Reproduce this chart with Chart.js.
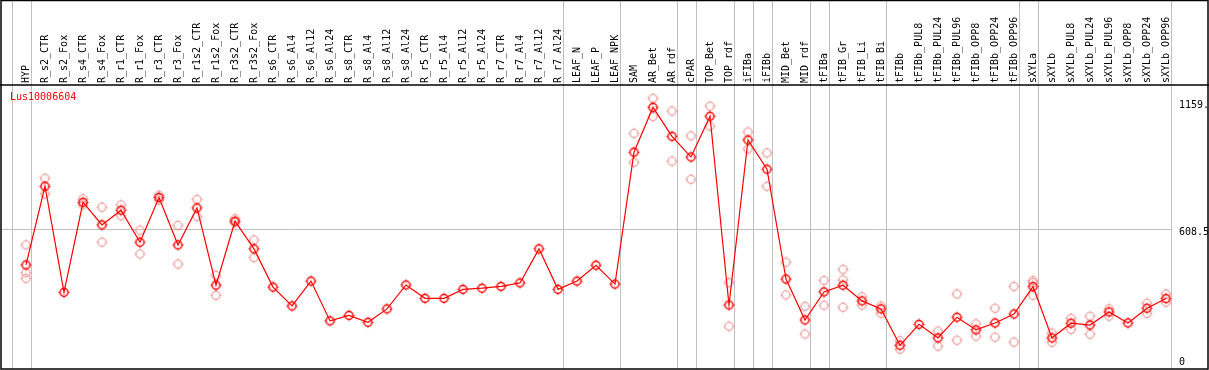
<!DOCTYPE html>
<html>
<head>
<meta charset="utf-8">
<script src="https://cdn.jsdelivr.net/npm/chart.js@4.4.1/dist/chart.umd.min.js"></script>
<style>
html,body{margin:0;padding:0;background:#fff;}
canvas{display:block;}
</style>
</head>
<body>
<canvas id="c" width="1209" height="370"></canvas>
<script>
const chartTitle = 'Lus10006604';
const categories = ['HYP','R_s2_CTR','R_s2_Fox','R_s4_CTR','R_s4_Fox','R_r1_CTR','R_r1_Fox','R_r3_CTR','R_r3_Fox','R_r1s2_CTR','R_r1s2_Fox','R_r3s2_CTR','R_r3s2_Fox','R_s6_CTR','R_s6_Al4','R_s6_Al12','R_s6_Al24','R_s8_CTR','R_s8_Al4','R_s8_Al12','R_s8_Al24','R_r5_CTR','R_r5_Al4','R_r5_Al12','R_r5_Al24','R_r7_CTR','R_r7_Al4','R_r7_Al12','R_r7_Al24','LEAF_N','LEAF_P','LEAF_NPK','SAM','AR_Bet','AR_rdf','cPAR','TOP_Bet','TOP_rdf','iFIBa','iFIBb','MID_Bet','MID_rdf','tFIBa','tFIB_Gr','tFIB_Li','tFIB_Bi','tFIBb','tFIBb_PUL8','tFIBb_PUL24','tFIBb_PUL96','tFIBb_OPP8','tFIBb_OPP24','tFIBb_OPP96','sXYLa','sXYLb','sXYLb_PUL8','sXYLb_PUL24','sXYLb_PUL96','sXYLb_OPP8','sXYLb_OPP24','sXYLb_OPP96'];
const meanValues = [452,794,333,724,626,690,551,745,539,700,364,642,522,356,274,382,209,233,203,261,365,307,307,346,351,359,374,522,346,382,451,369,942,1137,1011,921,1098,278,995,868,391,213,335,364,296,261,103,194,135,225,170,200,239,358,135,199,191,248,200,264,306];
const rep1 = [539,829,null,739,703,713,603,755,624,737,407,653,561,null,null,null,null,null,null,null,null,null,null,null,null,null,null,null,null,null,null,null,1024,1176,1121,1013,1142,375,1030,939,464,272,385,433,314,274,123,null,165,326,196,264,359,384,156,220,229,262,null,286,326];
const rep2 = [419,761,null,713,551,666,500,734,456,662,320,636,484,null,null,null,null,null,null,null,null,null,null,null,null,null,null,null,null,null,null,null,898,1097,903,824,1055,186,956,794,322,152,277,268,278,242,86,null,99,125,143,138,117,320,116,172,151,230,null,242,290];
const rep3 = [394,null,null,null,null,null,null,null,null,null,null,null,null,null,null,null,null,null,null,null,null,null,null,null,null,null,null,null,null,null,null,null,null,null,null,null,null,null,null,null,null,null,null,387,null,null,null,null,null,null,null,null,null,375,null,null,null,null,null,null,null];
const yTickValues = [0, 608.5, 1159];
const yTickLabels = ['0', '608.5', '1159.'];
const separatorsAfter = [-1, 0, 28, 31, 34, 35, 37, 38, 39, 41, 42, 45, 52, 53, 60];

const FONT = 'DejaVu Sans Mono';
const RED = '#ff0000';
const PINK = '#ee9494';

function makeMarker(color, r, lw) {
  const c = document.createElement('canvas');
  c.width = 15; c.height = 15;
  const g = c.getContext('2d');
  g.strokeStyle = color;
  g.lineWidth = lw;
  g.beginPath(); g.arc(7.5, 7.5, r, 0, Math.PI * 2); g.stroke();
  g.fillStyle = color;
  g.fillRect(7, 1.8, 1, 1);
  g.fillRect(7, 12.2, 1, 1);
  g.fillRect(1.8, 7, 1, 1);
  g.fillRect(12.2, 7, 1, 1);
  return c;
}
const mainMarker = makeMarker(RED, 4, 1.5);
const repMarker = makeMarker(PINK, 4, 1.2);

const decor = {
  id: 'decor',
  beforeDatasetsDraw(chart) {
    const ctx = chart.ctx, x = chart.scales.x, y = chart.scales.y, a = chart.chartArea;
    ctx.save();
    ctx.strokeStyle = '#c0c0c0';
    ctx.lineWidth = 1;
    const step = x.getPixelForValue(1) - x.getPixelForValue(0);
    separatorsAfter.forEach(i => {
      const px = Math.round(x.getPixelForValue(0) + i * step + step * 0.25) + 0.5;
      ctx.beginPath(); ctx.moveTo(px, 0); ctx.lineTo(px, a.bottom); ctx.stroke();
    });
    const gy = Math.round(y.getPixelForValue(yTickValues[1])) + 0.5;
    ctx.beginPath(); ctx.moveTo(1, gy); ctx.lineTo(1171, gy); ctx.stroke();
    ctx.restore();
  },
  afterDraw(chart) {
    const ctx = chart.ctx, a = chart.chartArea;
    ctx.save();
    ctx.strokeStyle = '#000';
    ctx.lineWidth = 1.5;
    ctx.strokeRect(1, 0.5, 1207, a.bottom - 0.5);
    ctx.beginPath(); ctx.moveTo(0, a.top); ctx.lineTo(1209, a.top); ctx.stroke();
    ctx.fillStyle = RED;
    ctx.font = '10px "' + FONT + '"';
    ctx.textBaseline = 'middle';
    ctx.textAlign = 'left';
    ctx.fillText(chartTitle, 10, 97.5);
    ctx.restore();
  }
};

function repDataset(vals) {
  return {
    data: vals,
    showLine: false,
    pointStyle: repMarker,
    pointRadius: 5,
    borderColor: PINK,
    backgroundColor: PINK
  };
}

new Chart(document.getElementById('c'), {
  type: 'line',
  data: {
    labels: categories,
    datasets: [
      {
        data: meanValues,
        borderColor: RED,
        borderWidth: 1.2,
        backgroundColor: RED,
        pointStyle: mainMarker,
        pointRadius: 5,
        tension: 0,
        fill: false
      },
      repDataset(rep1),
      repDataset(rep2),
      repDataset(rep3)
    ]
  },
  options: {
    responsive: false,
    animation: false,
    events: [],
    devicePixelRatio: 1,
    layout: { autoPadding: false, padding: { left: 16.5, right: 0, top: 0, bottom: 1 } },
    plugins: { legend: { display: false }, tooltip: { enabled: false }, title: { display: false } },
    scales: {
      x: {
        type: 'category',
        position: 'top',
        offset: true,
        grid: { display: false, drawTicks: false },
        border: { display: false },
        ticks: {
          autoSkip: false,
          minRotation: 90,
          maxRotation: 90,
          padding: 2,
          labelOffset: 12,
          color: '#000',
          font: { family: FONT, size: 10 }
        },
        afterFit(s) { s.height = 85; s.paddingLeft = 0; s.paddingRight = 0; }
      },
      y: {
        position: 'right',
        min: 0,
        max: 1234,
        afterBuildTicks(s) { s.ticks = yTickValues.map(v => ({ value: v })); },
        grid: { display: false, drawTicks: false },
        border: { display: false },
        ticks: {
          padding: 3.5,
          color: '#000',
          font: { family: FONT, size: 10, lineHeight: 0.7 },
          callback(v) {
            const lbl = yTickLabels[yTickValues.indexOf(v)];
            return v === 0 ? [lbl, '', ''] : ['', lbl];
          }
        },
        afterFit(s) { s.width = 33.5; s.paddingTop = 0; s.paddingBottom = 0; }
      }
    }
  },
  plugins: [decor]
});
</script>
</body>
</html>
